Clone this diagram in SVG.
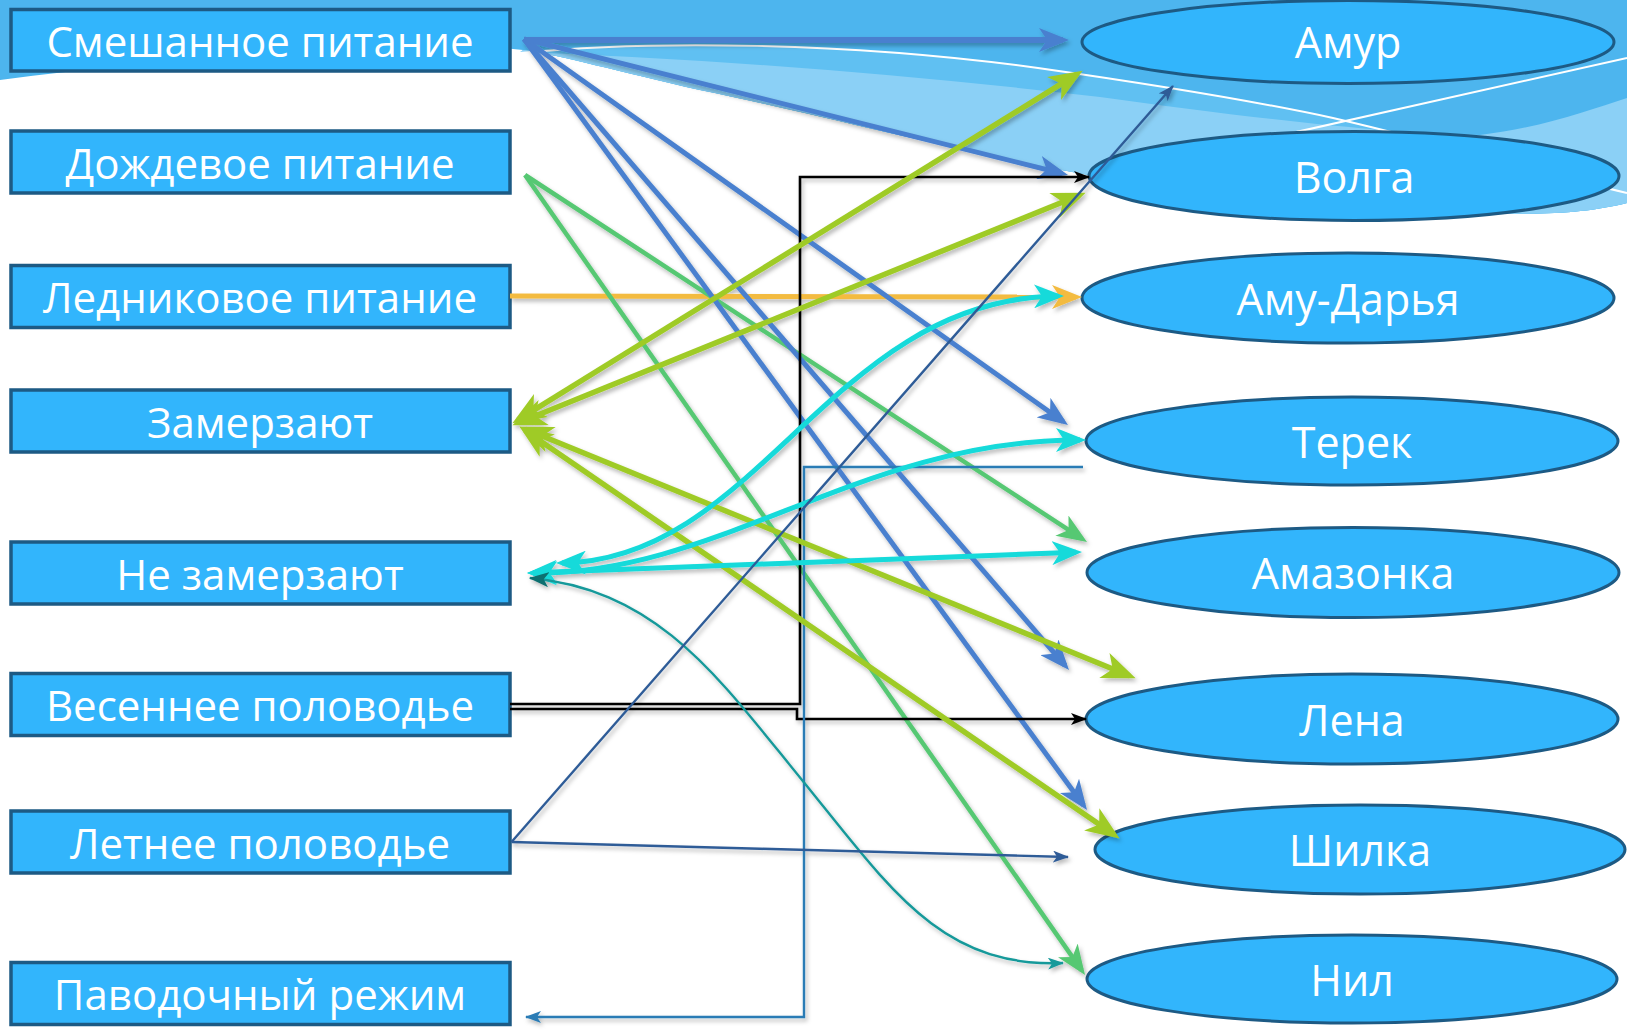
<svg xmlns="http://www.w3.org/2000/svg" width="1627" height="1031" viewBox="0 0 1627 1031">
<defs>
<style>
.box{fill:#32b5fc;stroke:#1d5a84;stroke-width:3.5}
.ell{fill:#32b5fc;stroke:#1d5a84;stroke-width:3}
.t{font-family:"Open Sans","Noto Sans","DejaVu Sans",sans-serif;font-size:42px;fill:#ffffff;text-anchor:middle}
.te{font-family:"Open Sans","Noto Sans","DejaVu Sans",sans-serif;font-size:43px;fill:#ffffff;text-anchor:middle}
.c{fill:none;stroke-linecap:butt;stroke-linejoin:miter}
.blue{stroke:#4a80cf;stroke-width:5}
.green{stroke:#57c873;stroke-width:4.5}
.yg{stroke:#9fcb28;stroke-width:5.5}
.orange{stroke:#f3bb41;stroke-width:5}
.cyan{stroke:#14dada;stroke-width:5}
.teal{stroke:#14999a;stroke-width:2.4}
.dblue{stroke:#2f5b97;stroke-width:2.4}
.black{stroke:#000000;stroke-width:2.6}
.pblue{stroke:#2a7bb5;stroke-width:2.4}
</style>
<filter id="sh" x="-10%" y="-10%" width="120%" height="120%">
<feDropShadow dx="2" dy="3" stdDeviation="2" flood-color="#000" flood-opacity="0.28"/>
</filter>
<marker id="mBlue" viewBox="0 0 30 24" refX="24" refY="12" markerWidth="30" markerHeight="24" markerUnits="userSpaceOnUse" orient="auto-start-reverse"><path d="M30,12 L0,0 L8,12 L0,24 Z" fill="#4a80cf"/></marker>
<marker id="mGreen" viewBox="0 0 30 24" refX="24" refY="12" markerWidth="30" markerHeight="24" markerUnits="userSpaceOnUse" orient="auto-start-reverse"><path d="M30,12 L0,0 L8,12 L0,24 Z" fill="#57c873"/></marker>
<marker id="mYg" viewBox="0 0 30 24" refX="24" refY="12" markerWidth="34" markerHeight="27" markerUnits="userSpaceOnUse" orient="auto-start-reverse"><path d="M30,12 L0,0 L8,12 L0,24 Z" fill="#9fcb28"/></marker>
<marker id="mOrange" viewBox="0 0 30 24" refX="24" refY="12" markerWidth="30" markerHeight="24" markerUnits="userSpaceOnUse" orient="auto-start-reverse"><path d="M30,12 L0,0 L8,12 L0,24 Z" fill="#f3bb41"/></marker>
<marker id="mCyan" viewBox="0 0 30 24" refX="24" refY="12" markerWidth="30" markerHeight="24" markerUnits="userSpaceOnUse" orient="auto-start-reverse"><path d="M30,12 L0,0 L8,12 L0,24 Z" fill="#14dada"/></marker>
<marker id="mTeal" viewBox="0 0 16 12" refX="15" refY="6" markerWidth="16" markerHeight="12" markerUnits="userSpaceOnUse" orient="auto-start-reverse"><path d="M16,6 L0,0 L4,6 L0,12 Z" fill="#14999a"/></marker>
<marker id="mTealD" viewBox="0 0 16 12" refX="15" refY="6" markerWidth="20" markerHeight="15" markerUnits="userSpaceOnUse" orient="auto-start-reverse"><path d="M16,6 L0,0 L4,6 L0,12 Z" fill="#0d6f70"/></marker>
<marker id="mDblue" viewBox="0 0 16 12" refX="15" refY="6" markerWidth="16" markerHeight="12" markerUnits="userSpaceOnUse" orient="auto-start-reverse"><path d="M16,6 L0,0 L4,6 L0,12 Z" fill="#2f5b97"/></marker>
<marker id="mBlack" viewBox="0 0 16 12" refX="15" refY="6" markerWidth="16" markerHeight="12" markerUnits="userSpaceOnUse" orient="auto-start-reverse"><path d="M16,6 L0,0 L4,6 L0,12 Z" fill="#000000"/></marker>
<marker id="mPblue" viewBox="0 0 16 12" refX="15" refY="6" markerWidth="16" markerHeight="12" markerUnits="userSpaceOnUse" orient="auto-start-reverse"><path d="M16,6 L0,0 L4,6 L0,12 Z" fill="#2a7bb5"/></marker>
</defs>

<rect x="0" y="0" width="1627" height="1031" fill="#ffffff"/>

<g id="background">
<path fill="#4db5ee" d="M0,0 H1627 V203 C1590,212 1560,214 1500,214 C1350,212 1200,195 1100,177 C950,150 800,110 700,90 C620,72 560,55 523,50 C400,35 200,55 0,80 Z"/>
<path fill="#60c0f2" d="M520,53 C650,40 850,42 1038,68 C1150,84 1250,100 1333,118 C1450,145 1550,175 1627,193 L1627,203 C1590,212 1560,214 1500,214 C1350,212 1200,195 1100,177 C950,150 800,110 700,90 C620,72 560,55 523,50 Z"/>
<path fill="#8bd0f6" d="M520,52 Q800,62 1100,97 C1250,118 1400,135 1480,135 C1540,128 1590,110 1627,98 L1627,203 C1590,212 1560,214 1500,214 C1350,212 1200,195 1100,177 C950,150 800,110 700,90 C620,72 560,55 523,50 Z"/>
<path fill="none" stroke="#ffffff" stroke-width="2" d="M520,53 C650,40 850,42 1038,68 C1150,84 1250,100 1333,118 C1450,145 1550,175 1627,193"/>
<path fill="none" stroke="#ffffff" stroke-width="2" d="M1180,158 L1627,58"/>
</g>

<g id="n-smeshannoe"><rect class="box" x="11" y="9.5" width="499" height="61.5"/><text class="t" x="260" y="56.5">Смешанное питание</text></g>
<g id="n-dozhdevoe"><rect class="box" x="11" y="131" width="499" height="62"/><text class="t" x="260" y="178.5">Дождевое питание</text></g>
<g id="n-lednikovoe"><rect class="box" x="11" y="265.5" width="499" height="62"/><text class="t" x="260" y="313">Ледниковое питание</text></g>
<g id="n-zamerzayut"><rect class="box" x="11" y="390" width="499" height="62"/><text class="t" x="260" y="437.5">Замерзают</text></g>
<g id="n-ne-zamerzayut"><rect class="box" x="11" y="542" width="499" height="62"/><text class="t" x="260" y="589.5">Не замерзают</text></g>
<g id="n-vesennee"><rect class="box" x="11" y="673.5" width="499" height="62"/><text class="t" x="260" y="721">Весеннее половодье</text></g>
<g id="n-letnee"><rect class="box" x="11" y="811" width="499" height="62"/><text class="t" x="260" y="858.5">Летнее половодье</text></g>
<g id="n-pavodochny"><rect class="box" x="11" y="962.5" width="499" height="62"/><text class="t" x="260" y="1010">Паводочный режим</text></g>

<g id="n-amur"><ellipse class="ell" cx="1348" cy="42" rx="266" ry="41.5"/><text class="te" x="1348" y="57.5">Амур</text></g>
<g id="n-volga"><ellipse class="ell" cx="1354" cy="176" rx="265" ry="44.5"/><text class="te" x="1354" y="192.5">Волга</text></g>
<g id="n-amu-darya"><ellipse class="ell" cx="1348" cy="298" rx="266" ry="45"/><text class="te" x="1348" y="314.5">Аму-Дарья</text></g>
<g id="n-terek"><ellipse class="ell" cx="1352" cy="441" rx="266" ry="44"/><text class="te" x="1352" y="457.5">Терек</text></g>
<g id="n-amazonka"><ellipse class="ell" cx="1353" cy="572.5" rx="266" ry="45"/><text class="te" x="1353" y="589">Амазонка</text></g>
<g id="n-lena"><ellipse class="ell" cx="1352" cy="719" rx="266" ry="45"/><text class="te" x="1352" y="735.5">Лена</text></g>
<g id="n-shilka"><ellipse class="ell" cx="1360" cy="849.5" rx="265" ry="44.5"/><text class="te" x="1360" y="866">Шилка</text></g>
<g id="n-nil"><ellipse class="ell" cx="1352" cy="979" rx="265" ry="44"/><text class="te" x="1352" y="995.5">Нил</text></g>

<g id="connectors" filter="url(#sh)">
<path class="c orange" d="M510,296 L1076,297" marker-end="url(#mOrange)"/>
<path class="c green" d="M525,175 L1082,538.7" marker-end="url(#mGreen)"/>
<path class="c green" d="M525,175 L1081.6,970.1" marker-end="url(#mGreen)"/>
<path class="c blue" d="M524,40 L1063,40" marker-end="url(#mBlue)" style="stroke-width:6"/>
<path class="c blue" d="M524,39 L1062.2,173.5" marker-end="url(#mBlue)"/>
<path class="c blue" d="M524,39 L1063.1,421.5" marker-end="url(#mBlue)"/>
<path class="c blue" d="M524,39 L1065.1,665.5" marker-end="url(#mBlue)"/>
<path class="c blue" d="M524,39 L1083.5,805.2" marker-end="url(#mBlue)"/>
<path class="c black" d="M510,704 H800 V177 H1089" marker-end="url(#mBlack)"/>
<path class="c black" d="M510,709 H797 V719 H1086" marker-end="url(#mBlack)"/>
<path class="c pblue" d="M1083,467 H804 V1017 H526" marker-end="url(#mPblue)"/>
<path class="c yg" d="M518.1,419.8 L1076.9,74.2" marker-start="url(#mYg)" marker-end="url(#mYg)"/>
<path class="c yg" d="M518.6,422.7 L1079.4,195.3" marker-start="url(#mYg)" marker-end="url(#mYg)"/>
<path class="c yg" d="M525.6,429.3 L1129.4,675.7" marker-start="url(#mYg)" marker-end="url(#mYg)"/>
<path class="c yg" d="M525,430.4 L1114,834.6" marker-start="url(#mYg)" marker-end="url(#mYg)"/>
<path class="c cyan" d="M562,563 C760,560 830,299 1058,296" marker-start="url(#mCyan)" marker-end="url(#mCyan)"/>
<path class="c cyan" d="M533,573 C720,575 860,440 1080,440" marker-start="url(#mCyan)" marker-end="url(#mCyan)"/>
<path class="c cyan" d="M533,572.8 L1076,552.2" marker-start="url(#mCyan)" marker-end="url(#mCyan)"/>
<path class="c teal" d="M530,578 C660,590 720,680 802,780 C890,888 940,968 1063,963" marker-start="url(#mTealD)" marker-end="url(#mTeal)"/>
<path class="c dblue" d="M511.5,842 L1173,86" marker-end="url(#mDblue)"/>
<path class="c dblue" d="M511.5,842 L1068,857" marker-end="url(#mDblue)"/>
</g>
</svg>
